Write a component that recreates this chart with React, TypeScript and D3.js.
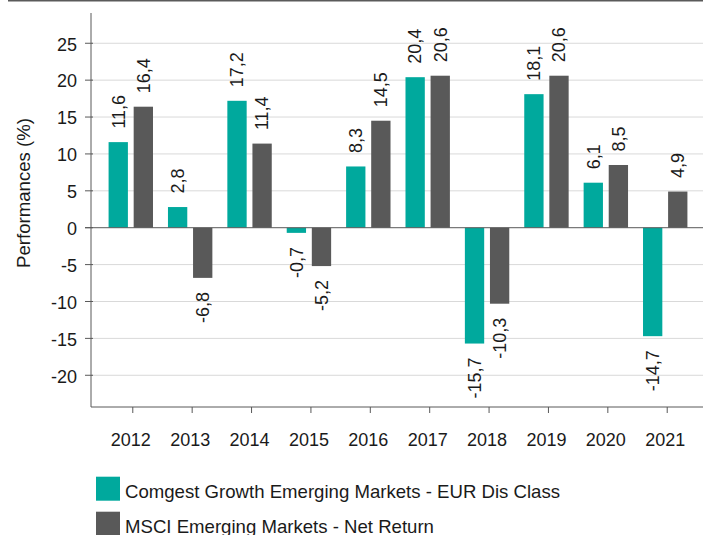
import React from "react";
import * as d3 from "d3";

const years = ["2012", "2013", "2014", "2015", "2016", "2017", "2018", "2019", "2020", "2021"];
const comgest = [11.6, 2.8, 17.2, -0.7, 8.3, 20.4, -15.7, 18.1, 6.1, -14.7];
const msci = [16.4, -6.8, 11.4, -5.2, 14.5, 20.6, -10.3, 20.6, 8.5, 4.9];
const seriesNames = ["Comgest Growth Emerging Markets - EUR Dis Class", "MSCI Emerging Markets - Net Return"];
const seriesColors = ["#00A99D", "#595959"];
const yTicks = [-20, -15, -10, -5, 0, 5, 10, 15, 20, 25];
const yLabel = "Performances (%)";

const FONT = "'Liberation Sans', Arial, sans-serif";

export default function App() {
  const W = 703, H = 535;
  const left = 91, top = 13, bottom = 407;
  const x = d3.scaleBand<string>().domain(years).range([left, 705]).paddingInner(0).paddingOuter(0.17);
  const x1 = d3.scaleBand<number>().domain([0, 1]).range([-22.2, 22.2]).paddingInner(0.23);
  const y = d3.scaleLinear().domain([-24.3, 29.1]).range([bottom, top]);
  const series = [comgest, msci];
  const fmt = (v: number) => v.toFixed(1).replace(".", ",");
  const fs = 18;
  const fsL = 18.6;

  return (
    <svg width={W} height={H} style={{ position: "absolute", left: 0, top: 0, display: "block" }} fontFamily={FONT}>
      <rect x={0} y={0} width={W} height={H} fill="#fff" />
      <line x1={8} x2={W} y1={0.75} y2={0.75} stroke="#5a5a5a" strokeWidth={1.5} />
      {yTicks.filter((t) => t !== 0).map((t) => (
        <line key={"g" + t} x1={left} x2={W} y1={y(t)} y2={y(t)} stroke="#d9d9d9" strokeWidth={1} />
      ))}
      {series.map((vals, si) =>
        vals.map((v, i) => {
          const cx = (x(years[i]) as number) + x.bandwidth() / 2;
          const bx = cx + (x1(si) as number);
          const y0 = y(0), yv = y(v);
          return (
            <rect key={`b${si}-${i}`} x={bx} y={Math.min(y0, yv)} width={x1.bandwidth()} height={Math.abs(yv - y0)} fill={seriesColors[si]} />
          );
        })
      )}
      {/* zero line */}
      <line x1={85} x2={W} y1={y(0)} y2={y(0)} stroke="#595959" strokeWidth={1} />
      {/* axes */}
      <line x1={left} x2={left} y1={top} y2={bottom} stroke="#595959" strokeWidth={1} />
      <line x1={left} x2={W} y1={bottom} y2={bottom} stroke="#595959" strokeWidth={1} />
      {yTicks.map((t) => (
        <g key={"t" + t}>
          <line x1={85} x2={93} y1={y(t)} y2={y(t)} stroke="#595959" strokeWidth={1} />
          <text x={77} y={y(t) + 1} dy="0.35em" textAnchor="end" fontSize={fs} fill="#1a1a1a">{t}</text>
        </g>
      ))}
      {years.map((yr) => {
        const cx = (x(yr) as number) + x.bandwidth() / 2;
        return (
          <g key={"x" + yr}>
            <line x1={cx + 2} x2={cx + 2} y1={bottom} y2={bottom + 6} stroke="#595959" strokeWidth={1} />
            <text x={cx} y={445.5} textAnchor="middle" fontSize={fs} fill="#1a1a1a">{yr}</text>
          </g>
        );
      })}
      {/* value labels */}
      {series.map((vals, si) =>
        vals.map((v, i) => {
          const cx = (x(years[i]) as number) + x.bandwidth() / 2;
          const bc = cx + (x1(si) as number) + x1.bandwidth() / 2;
          const yv = y(v);
          const pos = v >= 0;
          const ty = pos ? yv - 13.5 : Math.max(yv, y(0)) + 14;
          return (
            <text key={`l${si}-${i}`} transform={`translate(${bc},${ty}) rotate(-90)`} dy="0.35em"
              textAnchor={pos ? "start" : "end"} fontSize={fs} fill="#1a1a1a">{fmt(v)}</text>
          );
        })
      )}
      <text transform={`translate(30,193) rotate(-90)`} textAnchor="middle" fontSize={fsL} fill="#1a1a1a">{yLabel}</text>
      {/* legend */}
      {seriesNames.map((n, i) => (
        <g key={"lg" + i} transform={`translate(96,${476.7 + i * 35})`}>
          <rect x={0} y={0} width={24} height={24} fill={seriesColors[i]} />
          <text x={29} y={21.8} fontSize={fsL} fill="#1a1a1a">{n}</text>
        </g>
      ))}
    </svg>
  );
}
